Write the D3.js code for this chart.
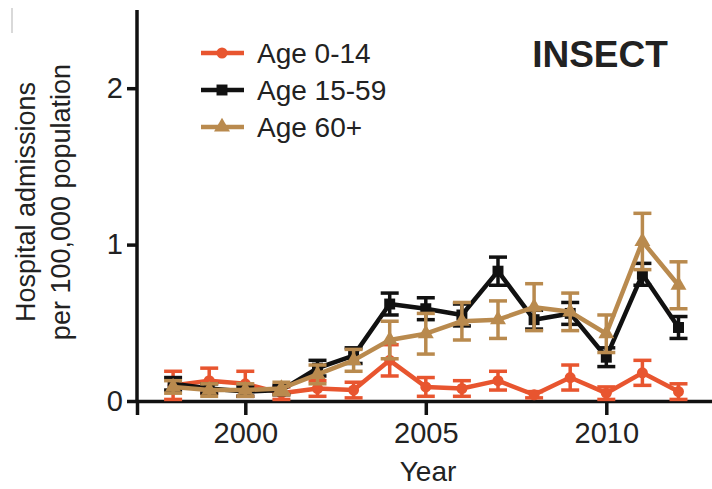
<!DOCTYPE html>
<html>
<head>
<meta charset="utf-8">
<script src="https://cdn.jsdelivr.net/npm/d3@7"></script>
<style>
  body { margin: 0; background: #fff; }
  text { font-family: "Liberation Sans", Arial, sans-serif; fill: #222; }
</style>
</head>
<body>
<div id="chart"></div>
<script>
// data
var years = [1998, 1999, 2000, 2001, 2002, 2003, 2004, 2005, 2006, 2007, 2008, 2009, 2010, 2011, 2012];

var age0_14     = [0.10, 0.13, 0.11, 0.05, 0.08, 0.07, 0.26, 0.09, 0.08, 0.13, 0.04, 0.15, 0.05, 0.18, 0.06];
var age0_14Err  = [0.09, 0.08, 0.08, 0.04, 0.05, 0.05, 0.10, 0.06, 0.05, 0.06, 0.02, 0.08, 0.04, 0.08, 0.05];
var age15_59    = [0.11, 0.08, 0.06, 0.07, 0.21, 0.29, 0.62, 0.59, 0.55, 0.83, 0.52, 0.56, 0.28, 0.81, 0.47];
var age15_59Err = [0.04, 0.03, 0.03, 0.03, 0.05, 0.05, 0.07, 0.07, 0.07, 0.09, 0.06, 0.07, 0.06, 0.07, 0.07];
var age60       = [0.09, 0.07, 0.07, 0.08, 0.17, 0.26, 0.39, 0.43, 0.51, 0.52, 0.60, 0.57, 0.43, 1.02, 0.74];
var age60Err    = [0.04, 0.04, 0.04, 0.04, 0.06, 0.07, 0.12, 0.13, 0.12, 0.12, 0.15, 0.12, 0.12, 0.18, 0.15];

var seriesNames = ["Age 0-14", "Age 15-59", "Age 60+"];
var yTicks = [0, 1, 2];
var xTicks = [2000, 2005, 2010];

var series = [
  {name: seriesNames[0], values: age0_14, err: age0_14Err, color: "#e8552f", symbol: d3.symbolCircle, size: 95},
  {name: seriesNames[1], values: age15_59, err: age15_59Err, color: "#111111", symbol: d3.symbolSquare, size: 120},
  {name: seriesNames[2], values: age60, err: age60Err, color: "#b98a4e", symbol: d3.symbolTriangle, size: 110}
];

var W = 712, H = 489;
var svg = d3.select("#chart").append("svg")
  .attr("width", W)
  .attr("height", H);

var x = d3.scaleLinear().domain([1997, 2013]).range([137, 714.6]);
var y = d3.scaleLinear().domain([0, 2.5]).range([401, 10]);

// small artifact at top left
svg.append("line")
  .attr("x1", 12).attr("x2", 12).attr("y1", 8).attr("y2", 33)
  .attr("stroke", "#ccc").attr("stroke-width", 1.5);

// axes
var xAxis = svg.append("g")
  .attr("transform", "translate(0," + y(0) + ")")
  .call(d3.axisBottom(x).tickValues(xTicks).tickFormat(d3.format("d")).tickSize(14).tickPadding(7));

var yAxis = svg.append("g")
  .attr("transform", "translate(" + x(1997) + ",0)")
  .call(d3.axisLeft(y).tickValues(yTicks).tickFormat(d3.format("d")).tickSize(10).tickPadding(4));

[xAxis, yAxis].forEach(function(ax) {
  ax.select(".domain").attr("stroke", "#111").attr("stroke-width", 3.5);
  ax.selectAll(".tick line").attr("stroke", "#111").attr("stroke-width", 3.5);
  ax.selectAll(".tick text")
    .style("font-size", "29px")
    .style("font-family", "Liberation Sans, Arial, sans-serif")
    .attr("fill", "#222");
});
yAxis.select(".domain").attr("d", "M0," + y(2.5) + "V" + (y(0) + 1.75));

// axis titles
svg.append("text")
  .attr("x", 428).attr("y", 481)
  .attr("text-anchor", "middle")
  .style("font-size", "28px")
  .text("Year");

var yl = svg.append("text")
  .attr("transform", "translate(35,202) rotate(-90)")
  .attr("text-anchor", "middle")
  .style("font-size", "27px");
yl.append("tspan").attr("x", 0).attr("dy", 0).text("Hospital admissions");
yl.append("tspan").attr("x", 0).attr("dy", 35).text("per 100,000 population");

svg.append("text")
  .attr("x", 600).attr("y", 67)
  .attr("text-anchor", "middle")
  .style("font-size", "37px")
  .style("font-weight", "bold")
  .attr("fill", "#111")
  .text("INSECT");

// series
var line = d3.line()
  .x(function(d) { return x(d.year); })
  .y(function(d) { return y(d.v); });

series.forEach(function(s) {
  var pts = years.map(function(yr, i) { return {year: yr, v: s.values[i], e: s.err[i]}; });
  var g = svg.append("g");

  g.append("path")
    .datum(pts)
    .attr("fill", "none")
    .attr("stroke", s.color)
    .attr("stroke-width", 4.5)
    .attr("stroke-linejoin", "round")
    .attr("d", line);

  var eb = g.selectAll(".eb").data(pts).enter().append("g");
  eb.append("line")
    .attr("x1", function(d) { return x(d.year); })
    .attr("x2", function(d) { return x(d.year); })
    .attr("y1", function(d) { return y(d.v + d.e); })
    .attr("y2", function(d) { return y(Math.max(0, d.v - d.e)); })
    .attr("stroke", s.color).attr("stroke-width", 3.5);
  [1, -1].forEach(function(sign) {
    eb.append("line")
      .attr("x1", function(d) { return x(d.year) - 9; })
      .attr("x2", function(d) { return x(d.year) + 9; })
      .attr("y1", function(d) { return y(Math.max(0, d.v + sign * d.e)); })
      .attr("y2", function(d) { return y(Math.max(0, d.v + sign * d.e)); })
      .attr("stroke", s.color).attr("stroke-width", 3.5);
  });

  g.selectAll(".pt").data(pts).enter().append("path")
    .attr("transform", function(d) { return "translate(" + x(d.year) + "," + y(d.v) + ")"; })
    .attr("d", d3.symbol().type(s.symbol).size(s.size))
    .attr("fill", s.color);
});

// legend
var legend = svg.append("g");
series.forEach(function(s, i) {
  var ly = 53 + i * 37;
  legend.append("line")
    .attr("x1", 201).attr("x2", 244).attr("y1", ly).attr("y2", ly)
    .attr("stroke", s.color).attr("stroke-width", 4.5);
  legend.append("path")
    .attr("transform", "translate(222," + ly + ")")
    .attr("d", d3.symbol().type(s.symbol).size(s.size))
    .attr("fill", s.color);
  legend.append("text")
    .attr("x", 257).attr("y", ly)
    .attr("dy", "0.35em")
    .style("font-size", "28px")
    .text(s.name);
});
</script>
</body>
</html>
